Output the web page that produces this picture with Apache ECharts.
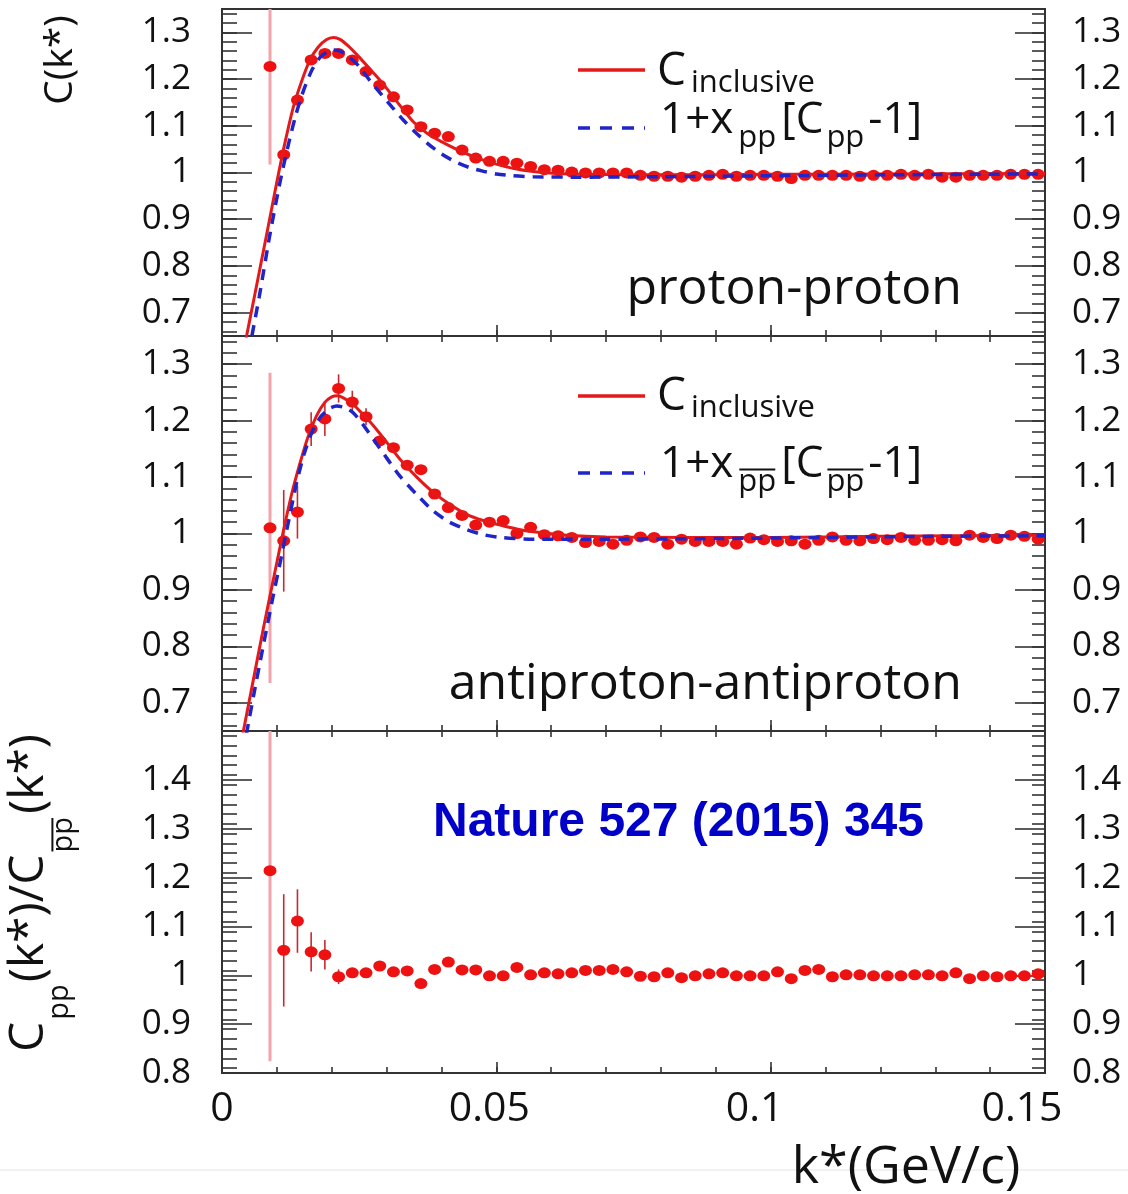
<!DOCTYPE html>
<html><head><meta charset="utf-8">
<script src="https://cdn.jsdelivr.net/npm/echarts@6/dist/echarts.min.js"></script>
<style>html,body{margin:0;padding:0;background:#fff}#c{width:1128px;height:1194px}</style>
</head><body><div id="c"></div>
<script>
// ---------- data ----------
const k = [0.00875,0.01125,0.01375,0.01625,0.01875,0.02125,0.02375,0.02625,0.02875,0.03125,
  0.03375,0.03625,0.03875,0.04125,0.04375,0.04625,0.04875,0.05125,0.05375,0.05625,
  0.05875,0.06125,0.06375,0.06625,0.06875,0.07125,0.07375,0.07625,0.07875,0.08125,
  0.08375,0.08625,0.08875,0.09125,0.09375,0.09625,0.09875,0.10125,0.10375,0.10625,
  0.10875,0.11125,0.11375,0.11625,0.11875,0.12125,0.12375,0.12625,0.12875,0.13125,
  0.13375,0.13625,0.13875,0.14125,0.14375,0.14625,0.14875];

const ppC = [1.227,1.038,1.155,1.241,1.255,1.255,1.241,1.216,1.187,1.162,
  1.134,1.098,1.084,1.077,1.048,1.031,1.024,1.024,1.020,1.013,
  1.006,1.005,1.001,0.999,0.999,0.999,0.999,0.994,0.992,0.992,
  0.990,0.992,0.994,0.996,0.992,0.994,0.994,0.992,0.987,0.994,
  0.994,0.994,0.994,0.992,0.994,0.994,0.996,0.994,0.996,0.990,
  0.990,0.994,0.994,0.994,0.996,0.996,0.996];
const ppErr = [0.21,0.02,0.012,0.01];

const apC = [1.010,0.987,1.038,1.185,1.203,1.257,1.233,1.207,1.164,1.152,
  1.121,1.113,1.070,1.046,1.032,1.015,1.020,1.023,1.000,1.011,
  0.998,0.996,0.993,0.984,0.986,0.981,0.988,0.994,0.993,0.981,
  0.990,0.986,0.986,0.986,0.981,0.992,0.989,0.986,0.987,0.981,
  0.988,0.994,0.988,0.987,0.991,0.989,0.993,0.988,0.988,0.989,
  0.987,0.997,0.993,0.991,0.997,0.995,0.990];
const apErr = [0.275,0.09,0.047,0.03,0.03,0.025,0.02,0.015];

const ratio = [1.214,1.051,1.111,1.048,1.042,0.997,1.005,1.005,1.019,1.007,
  1.009,0.983,1.012,1.027,1.011,1.011,0.999,0.999,1.016,1.001,
  1.005,1.003,1.005,1.010,1.010,1.012,1.007,0.998,0.997,1.005,
  0.995,0.999,1.003,1.005,0.999,0.999,0.999,1.007,0.993,1.010,
  1.012,0.997,1.001,1.001,0.999,0.999,0.999,1.001,1.001,0.999,
  1.005,0.993,0.999,0.997,0.999,0.999,1.003];
const ratioErr = [0.39,0.115,0.065,0.04,0.03,0.015];

const ppIncl = [[0.0038,0.61],[0.0060,0.74],[0.0081,0.865],[0.0100,0.98],[0.0115,1.065],[0.0130,1.14],
  [0.0145,1.195],[0.0160,1.24],[0.0175,1.268],[0.0190,1.284],[0.0203,1.289],[0.0215,1.285],[0.0230,1.271],
  [0.0250,1.247],[0.0270,1.221],[0.0290,1.195],[0.0310,1.165],[0.0330,1.135],[0.0350,1.107],[0.0375,1.083],
  [0.0400,1.066],[0.0425,1.051],[0.0450,1.038],[0.0475,1.027],[0.0500,1.018],[0.0530,1.009],[0.0567,1.002],
  [0.0610,0.998],[0.0660,0.996],[0.0800,0.995],[0.1000,0.996],[0.1200,0.997],[0.1500,0.998]];
const ppScaled = [[0.0048,0.61],[0.0068,0.735],[0.0087,0.865],[0.0105,0.975],[0.0120,1.055],[0.0135,1.125],
  [0.0150,1.18],[0.0165,1.222],[0.0180,1.248],[0.0195,1.26],[0.0205,1.262],[0.0217,1.259],[0.0230,1.249],
  [0.0250,1.227],[0.0270,1.196],[0.0290,1.168],[0.0310,1.14],[0.0330,1.113],[0.0350,1.089],[0.0375,1.062],
  [0.0400,1.04],[0.0425,1.023],[0.0450,1.011],[0.0475,1.003],[0.0500,0.997],[0.0530,0.993],[0.0567,0.991],
  [0.0650,0.990],[0.0800,0.991],[0.1000,0.993],[0.1200,0.995],[0.1500,0.997]];
const apIncl = [[0.0033,0.62],[0.0055,0.73],[0.0075,0.83],[0.0095,0.925],[0.0112,1.005],[0.0127,1.07],
  [0.0142,1.124],[0.0157,1.172],[0.0172,1.208],[0.0187,1.232],[0.0200,1.242],[0.0210,1.244],[0.0222,1.240],
  [0.0239,1.229],[0.0257,1.211],[0.0276,1.191],[0.0300,1.162],[0.0324,1.132],[0.0355,1.100],[0.0385,1.073],
  [0.0415,1.052],[0.0446,1.034],[0.0476,1.023],[0.0507,1.015],[0.0537,1.008],[0.0567,1.003],[0.0628,0.997],
  [0.0700,0.994],[0.0850,0.993],[0.1000,0.993],[0.1200,0.995],[0.1500,0.997]];
const apScaled = [[0.0038,0.61],[0.0058,0.715],[0.0076,0.805],[0.0093,0.888],[0.0108,0.958],[0.0122,1.025],
  [0.0136,1.09],[0.0150,1.142],[0.0165,1.182],[0.0180,1.207],[0.0195,1.221],[0.0209,1.226],[0.0224,1.223],
  [0.0239,1.214],[0.0257,1.193],[0.0276,1.167],[0.0300,1.134],[0.0324,1.102],[0.0355,1.069],[0.0385,1.040],
  [0.0415,1.020],[0.0446,1.007],[0.0476,0.998],[0.0507,0.993],[0.0567,0.990],[0.0700,0.990],[0.0900,0.991],
  [0.1100,0.993],[0.1300,0.995],[0.1500,0.996]];

const xTickLabels = [0, 0.05, 0.1, 0.15];
const yTickLabelsC = [0.7, 0.8, 0.9, 1.0, 1.1, 1.2, 1.3];
const yTickLabelsR = [0.8, 0.9, 1.0, 1.1, 1.2, 1.3, 1.4];

// ---------- layout helpers ----------
const FONT = '"Open Sans", "Noto Sans", sans-serif';
const INK = '#111';
const RED = '#ee1111', BLUE = '#1f25c8';
const cv = document.createElement('canvas').getContext('2d');
function fontStr(size, weight, fam) { return (weight || 'normal') + ' ' + size + 'px ' + (fam || FONT); }
function tw(t, size, weight, fam) { cv.font = fontStr(size, weight, fam); return cv.measureText(t).width; }
function txt(x, y, text, size, opts) {
  opts = opts || {};
  return { type: 'text', x: x, y: y, z: 100,
    style: { text: text, font: fontStr(size, opts.weight, opts.fam), fill: opts.color || INK,
      align: opts.align || 'left', verticalAlign: 'middle', textAlign: opts.align || 'left', textVerticalAlign: 'middle' } };
}
function run(frags, x, y) {
  const els = [];
  frags.forEach(f => {
    x += (f.pre || 0);
    const w = tw(f.t, f.size);
    const yy = y + (f.dy || 0);
    els.push(txt(x, yy, f.t, f.size));
    if (f.over) {
      const oy = yy - f.size * 0.40;
      els.push({ type: 'line', z: 100, shape: { x1: x + 1, y1: oy, x2: x + w - 1, y2: oy }, style: { stroke: INK, lineWidth: 2 } });
    }
    x += w;
  });
  return els;
}
function steps(a, b, s) { const r = []; for (let v = a; v <= b + 1e-9; v += s) r.push(+v.toFixed(4)); return r; }

// ---------- grids & axes ----------
const X0 = 222, XW = 823;
const panels = [
  { top: 9, height: 327, min: 0.65, max: 1.35, labels: yTickLabelsC, vals: ppC, err: ppErr, incl: ppIncl, scaled: ppScaled, topTicks: false },
  { top: 336, height: 395, min: 0.65, max: 1.35, labels: yTickLabelsC, vals: apC, err: apErr, incl: apIncl, scaled: apScaled, topTicks: true },
  { top: 731, height: 342, min: 0.8, max: 1.5, labels: yTickLabelsR, vals: ratio, err: ratioErr, topTicks: true }
];
const grid = [], xAxis = [], yAxis = [], series = [];
const tickStyle = { color: '#333', width: 1.6 };
const xShift = [0, 14, 32, 46];
const xRich = {};
xShift.forEach((s, i) => { xRich['s' + i] = { fontSize: 41, fontFamily: FONT, color: INK, padding: [0, s, 0, 0] }; });

panels.forEach((p, gi) => {
  grid.push({ left: X0, width: XW, top: p.top, height: p.height, show: true, borderColor: '#333', borderWidth: 2, backgroundColor: 'transparent' });
  const base = { type: 'value', gridIndex: gi, min: 0, max: 0.15, splitLine: { show: false }, axisLine: { show: false, onZero: false } };
  const xi = xAxis.length;
  xAxis.push(Object.assign({}, base, { position: 'bottom',
    axisTick: { show: true, inside: true, length: 6, customValues: steps(0, 0.15, 0.01), lineStyle: tickStyle },
    axisLabel: gi === 2 ? { show: true, customValues: xTickLabels, margin: 16,
      formatter: v => { const i = xTickLabels.findIndex(t => Math.abs(t - v) < 1e-6); return '{s' + i + '|' + String(+v.toFixed(2)) + '}'; },
      rich: xRich } : { show: false } }));
  xAxis.push(Object.assign({}, base, { position: 'bottom',
    axisTick: { show: true, inside: true, length: 11, customValues: [0.05, 0.1], lineStyle: tickStyle }, axisLabel: { show: false } }));
  if (p.topTicks) xAxis.push(Object.assign({}, base, { position: 'top',
    axisTick: { show: true, inside: true, length: 6, customValues: steps(0, 0.15, 0.01), lineStyle: tickStyle }, axisLabel: { show: false } }));

  const ybase = { type: 'value', gridIndex: gi, min: p.min, max: p.max, splitLine: { show: false }, axisLine: { show: false, onZero: false } };
  const minor = steps(p.min + 0.01, p.max - 0.01, 0.02);
  const fmt = v => String(+v.toFixed(2));
  const yi = yAxis.length;
  yAxis.push(Object.assign({}, ybase, { position: 'left',
    axisTick: { show: true, inside: true, length: 30, customValues: p.labels, lineStyle: tickStyle },
    axisLabel: { show: true, customValues: p.labels, margin: 31, formatter: fmt, color: INK, fontSize: 35, fontFamily: FONT } }));
  yAxis.push(Object.assign({}, ybase, { position: 'left',
    axisTick: { show: true, inside: true, length: 15, customValues: minor, lineStyle: tickStyle }, axisLabel: { show: false } }));
  yAxis.push(Object.assign({}, ybase, { position: 'right',
    axisTick: { show: true, inside: true, length: 30, customValues: p.labels, lineStyle: tickStyle },
    axisLabel: { show: true, customValues: p.labels, margin: 27, formatter: fmt, color: INK, fontSize: 35, fontFamily: FONT } }));
  yAxis.push(Object.assign({}, ybase, { position: 'right',
    axisTick: { show: true, inside: true, length: 13, customValues: minor, lineStyle: tickStyle }, axisLabel: { show: false } }));

  // error bars
  series.push({ type: 'custom', xAxisIndex: xi, yAxisIndex: yi, clip: true, z: 2,
    data: p.err.map((e, i) => [k[i], p.vals[i], e, i]), encode: { x: 0, y: 1 },
    renderItem: (params, api) => {
      const x = api.value(0), y = api.value(1), e = api.value(2), i = api.value(3);
      const a = api.coord([x, y - e]), b = api.coord([x, y + e]);
      return { type: 'line', shape: { x1: a[0], y1: a[1], x2: b[0], y2: b[1] },
        style: { stroke: i === 0 ? '#f4a3aa' : '#c62a30', lineWidth: i === 0 ? 3 : 1.6 } };
    } });
  // data points
  series.push({ type: 'scatter', xAxisIndex: xi, yAxisIndex: yi, z: 3, symbol: 'circle', symbolSize: [13, 11],
    itemStyle: { color: RED, opacity: 1 }, data: k.map((x, i) => [x, p.vals[i]]) });
  if (p.incl) {
    series.push({ type: 'line', xAxisIndex: xi, yAxisIndex: yi, z: 4, data: p.incl, smooth: 0.25,
      showSymbol: false, symbol: 'none', clip: true, lineStyle: { color: '#e41a1a', width: 3 } });
    series.push({ type: 'line', xAxisIndex: xi, yAxisIndex: yi, z: 5, data: p.scaled, smooth: 0.25,
      showSymbol: false, symbol: 'none', clip: true, lineStyle: { color: BLUE, width: 3.5, type: [11, 8] } });
  }
});

// ---------- annotations ----------
const g = [];
g.push({ type: 'line', z: 1, shape: { x1: 0, y1: 1170, x2: 1128, y2: 1170 }, style: { stroke: '#e4e4e4', lineWidth: 1 } });
// legends
[[70, 128, 72, 120, false], [396, 473, 397, 464, true]].forEach(([ly1, ly2, t1, t2, bar]) => {
  g.push({ type: 'line', z: 100, shape: { x1: 578, y1: ly1, x2: 645, y2: ly1 }, style: { stroke: '#e41a1a', lineWidth: 3.5 } });
  g.push({ type: 'line', z: 100, shape: { x1: 578, y1: ly2, x2: 645, y2: ly2 }, style: { stroke: BLUE, lineWidth: 3.5, lineDash: [12, 10] } });
  run([{ t: 'C', size: 46 }, { t: 'inclusive', size: 31, dy: 11, pre: 5 }], 657, t1).forEach(e => g.push(e));
  run([{ t: '1+x', size: 44 }, { t: 'pp', size: 31, dy: 18, pre: 5, over: bar }, { t: '[C', size: 44, pre: 5 },
       { t: 'pp', size: 31, dy: 18, pre: 3, over: bar }, { t: '-1]', size: 44, pre: 4 }], 660, t2).forEach(e => g.push(e));
});
g.push(txt(962, 290, 'proton-proton', 50, { align: 'right' }));
g.push(txt(962, 685, 'antiproton-antiproton', 50, { align: 'right' }));
g.push(txt(433, 823, 'Nature 527 (2015) 345', 48, { weight: 'bold', fam: '"Liberation Sans", Arial, sans-serif', color: '#0000c8' }));
g.push(txt(906, 1168, 'k*(GeV/c)', 52, { align: 'center' }));
// rotated y titles
g.push({ type: 'group', x: 61, y: 60, rotation: Math.PI / 2, children: [txt(0, 0, 'C(k*)', 39, { align: 'center' })] });
g.push({ type: 'group', x: 29, y: 1052, rotation: Math.PI / 2,
  children: run([{ t: 'C', size: 48 }, { t: 'pp', size: 29, dy: 31, pre: 2 }, { t: '(k*)/C', size: 48, pre: 2 },
                 { t: 'pp', size: 29, dy: 35, pre: 2, over: true }, { t: '(k*)', size: 48, pre: 3 }], 0, 0) });

const chart = echarts.init(document.getElementById('c'), null, { renderer: 'canvas' });
chart.setOption({ animation: false, backgroundColor: '#fff', grid, xAxis, yAxis, series, graphic: { elements: g } });
</script></body></html>
